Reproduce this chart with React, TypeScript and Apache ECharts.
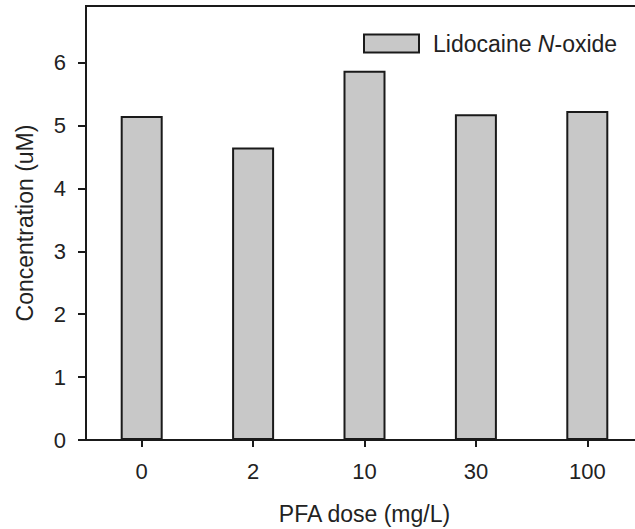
import React, { useEffect, useRef } from "react";
import * as echarts from "echarts";

const categories = ["0", "2", "10", "30", "100"];
const values = [5.15, 4.65, 5.87, 5.18, 5.23];
const yTicks = [0, 1, 2, 3, 4, 5, 6];
const seriesName = "Lidocaine N-oxide";

const FONT = "'Liberation Sans', Arial, Helvetica, sans-serif";

export default function App() {
  const ref = useRef<HTMLDivElement>(null);
  useEffect(() => {
    if (!ref.current) return;
    const chart = echarts.init(ref.current, undefined, { renderer: "svg" });
    chart.setOption({
      animation: false,
      backgroundColor: "#ffffff",
      textStyle: { fontFamily: FONT },
      grid: {
        left: 86,
        top: 6,
        width: 557,
        height: 434,
        outerBoundsMode: "none",
        containLabel: false,
        show: true,
        borderColor: "#1a1a1a",
        borderWidth: 2,
        backgroundColor: "transparent",
      },
      legend: {
        show: true,
        left: 358,
        top: 27,
        itemWidth: 55,
        itemHeight: 18,
        icon: "rect",
        data: [seriesName],
        formatter: () => "{a|Lidocaine }{b|N}{a|-oxide}",
        textStyle: {
          padding: [0, 0, 0, 9],
          rich: {
            a: { fontSize: 23, color: "#222", fontFamily: FONT },
            b: { fontSize: 23, color: "#222", fontStyle: "italic", fontFamily: FONT },
          },
        },
      },
      xAxis: {
        type: "category",
        data: categories,
        boundaryGap: true,
        name: "PFA dose (mg/L)",
        nameLocation: "middle",
        nameGap: 62,
        nameTextStyle: { fontSize: 23, color: "#222", fontFamily: FONT },
        axisLine: { show: true, lineStyle: { color: "#1a1a1a", width: 2 } },
        axisTick: { show: true, alignWithLabel: true, length: 7, lineStyle: { color: "#1a1a1a", width: 2 } },
        axisLabel: { fontSize: 22, color: "#222", margin: 20, fontFamily: FONT },
        splitLine: { show: false },
      },
      yAxis: {
        type: "value",
        min: 0,
        max: 6.9,
        interval: 1,
        name: "Concentration (uM)",
        nameLocation: "middle",
        nameGap: 50,
        nameTextStyle: { fontSize: 23, color: "#222", fontFamily: FONT },
        axisLine: { show: true, lineStyle: { color: "#1a1a1a", width: 2 } },
        axisTick: { show: true, length: 8, customValues: yTicks, lineStyle: { color: "#1a1a1a", width: 2 } },
        axisLabel: { fontSize: 22, color: "#222", margin: 20, customValues: yTicks, fontFamily: FONT },
        splitLine: { show: false },
      },
      series: [
        {
          name: seriesName,
          type: "bar",
          data: values,
          barWidth: 42,
          itemStyle: { color: "#c8c8c8", borderColor: "#1a1a1a", borderWidth: 2 },
        },
      ],
    });
    return () => chart.dispose();
  }, []);
  return (
    <div
      ref={ref}
      style={{ position: "fixed", left: 0, top: 0, width: 635, height: 529, background: "#fff" }}
    />
  );
}
